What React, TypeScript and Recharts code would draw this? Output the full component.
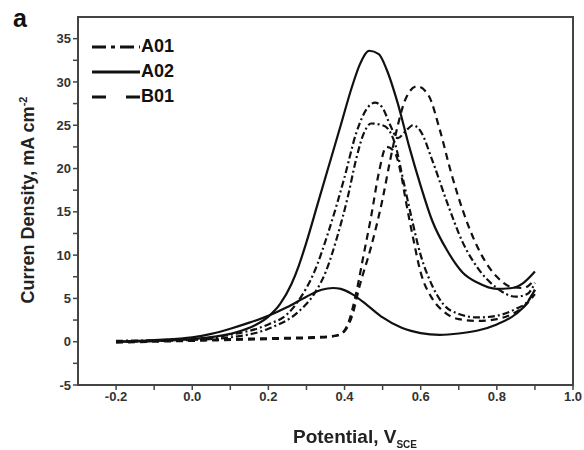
import React from "react";
import { ComposedChart, Line, XAxis, YAxis, ReferenceArea } from "recharts";

// [potential V, current density mA cm-2], each branch sorted by potential
const a01Forward = [
  [-0.2, 0.1], [0, 0.3], [0.1, 0.8], [0.2, 2], [0.25, 3.2], [0.28, 4.8], [0.32, 8], [0.36, 13],
  [0.4, 19], [0.43, 24], [0.46, 27], [0.48, 27.6], [0.5, 27], [0.52, 25], [0.54, 23.5],
  [0.56, 24.3], [0.58, 25], [0.6, 24.3], [0.63, 21], [0.67, 16], [0.71, 11.5], [0.75, 8.5],
  [0.8, 6.2], [0.85, 5.2], [0.88, 5.5], [0.9, 6.8],
];
const a01Reverse = [
  [-0.2, 0], [0, 0.2], [0.1, 0.5], [0.2, 1.5], [0.28, 3.5], [0.32, 5.5], [0.35, 8], [0.38, 12],
  [0.41, 17], [0.43, 21], [0.45, 24], [0.47, 25.2], [0.5, 25], [0.52, 24.2], [0.535, 22.5],
  [0.55, 19.5], [0.57, 15.5], [0.6, 10], [0.63, 6.5], [0.66, 4.3], [0.7, 3.2], [0.75, 2.8],
  [0.8, 3], [0.85, 3.8], [0.88, 4.6], [0.9, 6],
];
const a02Forward = [
  [-0.2, 0], [-0.1, 0.1], [0, 0.3], [0.1, 0.9], [0.15, 1.6], [0.2, 2.9], [0.23, 4.3], [0.26, 6.6],
  [0.28, 8.8], [0.3, 11.5], [0.33, 16], [0.36, 20.5], [0.39, 25], [0.42, 29.5], [0.44, 32],
  [0.465, 33.6], [0.49, 33.2], [0.51, 31.5], [0.54, 27.5], [0.57, 22.5], [0.6, 18], [0.63, 14],
  [0.67, 10.5], [0.71, 8], [0.75, 6.8], [0.8, 6.1], [0.84, 6.2], [0.87, 6.8], [0.9, 8.1],
];
const a02Reverse = [
  [-0.2, 0], [-0.1, 0.2], [0, 0.5], [0.05, 0.9], [0.1, 1.5], [0.15, 2.2], [0.2, 3], [0.25, 4],
  [0.3, 5.2], [0.34, 6], [0.37, 6.2], [0.39, 6.1], [0.42, 5.5], [0.46, 4.2], [0.5, 2.8],
  [0.55, 1.6], [0.6, 1], [0.65, 0.8], [0.7, 0.95], [0.75, 1.3], [0.8, 2], [0.85, 3.2],
  [0.88, 4.5], [0.9, 6],
];
const b01Forward = [
  [-0.2, 0], [0, 0.2], [0.2, 0.4], [0.3, 0.5], [0.38, 0.7], [0.4, 1.2], [0.42, 3], [0.44, 6.5],
  [0.47, 11], [0.5, 16.5], [0.52, 21], [0.54, 25], [0.56, 28], [0.59, 29.5], [0.62, 28.5],
  [0.65, 24.5], [0.68, 19.5], [0.72, 14], [0.76, 10], [0.8, 7.5], [0.84, 6.3], [0.87, 6.2],
  [0.9, 7.2],
];
const b01Reverse = [
  [-0.2, -0.1], [0, 0.1], [0.2, 0.3], [0.35, 0.5], [0.39, 0.9], [0.41, 2.2], [0.43, 5.5],
  [0.45, 10], [0.47, 14.5], [0.49, 19.5], [0.51, 22.5], [0.53, 22], [0.55, 19], [0.56, 16.5],
  [0.58, 12], [0.6, 8], [0.63, 5], [0.66, 3.5], [0.7, 2.6], [0.75, 2.4], [0.8, 2.6],
  [0.84, 3.2], [0.87, 4], [0.9, 5.5],
];

// major ticks are labelled, minor ones (odd tenths / half steps) are not
const xMajorTicks = [-0.2, 0, 0.2, 0.4, 0.6, 0.8, 1.0];
const xMinorTicks = [-0.1, 0.1, 0.3, 0.5, 0.7, 0.9];
const yMajorTicks = [-5, 0, 5, 10, 15, 20, 25, 30, 35];
const yMinorTicks = [-2.5, 2.5, 7.5, 12.5, 17.5, 22.5, 27.5, 32.5];
const X_DOMAIN = [-0.3, 1.0];
const Y_DOMAIN = [-5, 37.5];

const toRows = (pts: number[][]) => pts.map(([x, y]) => ({ x, y }));
const allTicks = (a: number[], b: number[]) => [...a, ...b].sort((p, q) => p - q);
const isMajor = (list: number[], v: number) => list.some((t) => Math.abs(t - v) < 1e-9);

const FONT = "Arial, 'Liberation Sans', sans-serif";
const INK = "#111";
const AXIS = "#444";
const tickStyle = { fontSize: 13, fontWeight: 700, fill: "#333", fontFamily: FONT };

const series = [
  { name: "A01", dash: "7 3 2 3", legendDash: "14 5 4 5", fwd: a01Forward, rev: a01Reverse },
  { name: "A02", dash: undefined, legendDash: undefined, fwd: a02Forward, rev: a02Reverse },
  { name: "B01", dash: "7 5", legendDash: "14 20", fwd: b01Forward, rev: b01Reverse },
];

function LegendBox() {
  return (
    <div style={{ position: "absolute", left: 92, top: 34, fontFamily: FONT }}>
      {series.map((s) => (
        <div key={s.name} style={{ display: "flex", alignItems: "center", height: 25 }}>
          <svg width={48} height={6}>
            <line x1={0} y1={3} x2={48} y2={3} stroke={INK} strokeWidth={3} strokeDasharray={s.legendDash} />
          </svg>
          <span style={{ fontSize: 18, fontWeight: 700, color: "#111", marginLeft: 1 }}>{s.name}</span>
        </div>
      ))}
    </div>
  );
}

export default function App() {
  return (
    <div style={{ position: "fixed", left: 0, top: 0, width: 584, height: 450, background: "#fff", fontFamily: FONT }}>
      <ComposedChart width={584} height={450} margin={{ top: 17, right: 11, bottom: 0, left: 0 }}>
        <XAxis type="number" dataKey="x" domain={X_DOMAIN} ticks={allTicks(xMajorTicks, xMinorTicks)}
          height={65} interval={0}
          tickFormatter={(v: number) => (isMajor(xMajorTicks, v) ? v.toFixed(1) : "")}
          tick={tickStyle} tickSize={5}
          axisLine={{ stroke: AXIS, strokeWidth: 2 }} tickLine={{ stroke: AXIS, strokeWidth: 1.5 }} />
        <YAxis type="number" domain={Y_DOMAIN} ticks={allTicks(yMajorTicks, yMinorTicks)} width={78}
          interval={0} tickFormatter={(v: number) => (isMajor(yMajorTicks, v) ? String(v) : "")}
          tick={tickStyle} tickSize={5} axisLine={{ stroke: AXIS, strokeWidth: 2 }}
          tickLine={{ stroke: AXIS, strokeWidth: 1.5 }} />
        {/* plot frame */}
        <ReferenceArea x1={X_DOMAIN[0]} x2={X_DOMAIN[1]} y1={Y_DOMAIN[0]} y2={Y_DOMAIN[1]}
          fill="none" fillOpacity={0} stroke={AXIS} strokeWidth={2} ifOverflow="visible" />
        {series.flatMap((s) => [
          <Line key={s.name + "f"} data={toRows(s.fwd)} dataKey="y" type="monotone" stroke={INK}
            strokeWidth={2.2} strokeDasharray={s.dash} dot={false} isAnimationActive={false} />,
          <Line key={s.name + "r"} data={toRows(s.rev)} dataKey="y" type="monotone" stroke={INK}
            strokeWidth={2.2} strokeDasharray={s.dash} dot={false} isAnimationActive={false} />,
        ])}
      </ComposedChart>
      <div style={{ position: "absolute", left: 13, top: 4, fontSize: 25, fontWeight: 700, color: "#111" }}>a</div>
      <LegendBox />
      <div style={{
        position: "absolute", left: 28, top: 200, transform: "translate(-50%, -50%) rotate(-90deg)",
        whiteSpace: "nowrap", fontSize: 18, fontWeight: 700, color: "#222",
      }}>
        Curren Density, mA cm<sup style={{ fontSize: 11 }}>-2</sup>
      </div>
      <div style={{
        position: "absolute", left: 355, top: 438, transform: "translate(-50%, -50%)",
        whiteSpace: "nowrap", fontSize: 19, fontWeight: 700, color: "#222",
      }}>
        Potential, V<sub style={{ fontSize: 10 }}>SCE</sub>
      </div>
    </div>
  );
}
